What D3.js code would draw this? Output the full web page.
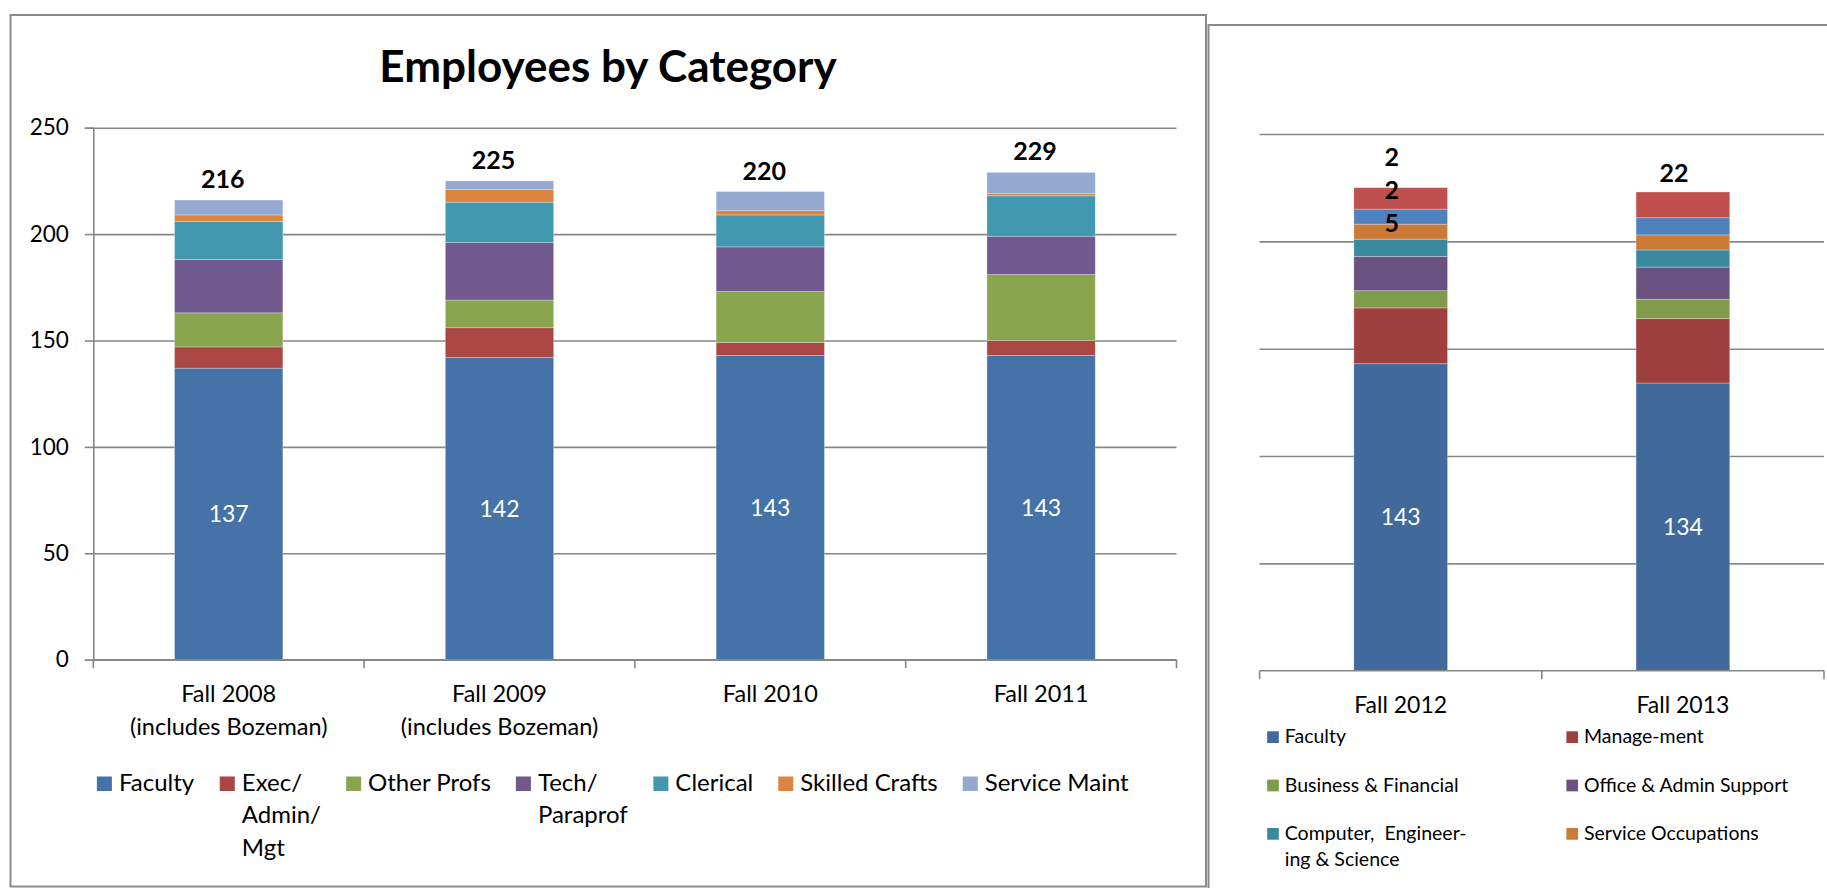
<!DOCTYPE html>
<html>
<head>
<meta charset="utf-8">
<script src="https://cdn.jsdelivr.net/npm/d3@7"></script>
<style>
  body { margin: 0; background: #fff; }
  svg { display: block; font-family: Lato, "Liberation Sans", sans-serif; }
</style>
</head>
<body>
<svg id="chart" width="1827" height="888"></svg>
<script>
// ---- left chart: Fall 2008 - Fall 2011 ----
var leftCategories = ["Fall 2008\n(includes Bozeman)", "Fall 2009\n(includes Bozeman)", "Fall 2010", "Fall 2011"];
var leftSeries = ["Faculty", "Exec/\nAdmin/\nMgt", "Other Profs", "Tech/\nParaprof", "Clerical", "Skilled Crafts", "Service Maint"];
var leftColors = ["#4572A7", "#AA4643", "#89A54E", "#71588F", "#4198AF", "#DB843D", "#93A9CF"];
var faculty      = [137, 142, 143, 143];
var execAdminMgt = [10, 14, 6, 7];
var otherProfs   = [16, 13, 24, 31];
var techParaprof = [25, 27, 21, 18];
var clerical     = [18, 19, 15, 19];
var skilledCraft = [3, 6, 2, 1];
var serviceMaint = [7, 4, 9, 10];
var yTicks = [0, 50, 100, 150, 200, 250];

// ---- right chart: Fall 2012 - Fall 2013 ----
var rightCategories = ["Fall 2012", "Fall 2013"];
var rightSeries = ["Faculty", "Manage-ment", "Business & Financial", "Office & Admin Support",
                   "Computer,\u00a0 Engineer-\ning & Science", "Service Occupations", "Series 7", "Series 8"];
var rightColors = ["#41699B", "#9E413E", "#7F9A48", "#69527F", "#3A8A9F", "#CC7A37", "#4F81BD", "#C0504D"];
var faculty2    = [143, 134];
var management  = [26, 30];
var business    = [8, 9];
var officeAdmin = [16, 15];
var computerEng = [8, 8];
var serviceOcc  = [7, 7];
var series7     = [7, 8];
var series8     = [10, 12];
var rightTotalLabels = ["2\n2\n5", "22"];
var rightLegendCount = 6;

var svg = d3.select("#chart");
var gridColor = "#878787";

function toRows(categories, seriesNames, columns) {
  return categories.map(function(c, i) {
    var row = {cat: c};
    seriesNames.forEach(function(s, j) { row[s] = columns[j][i]; });
    return row;
  });
}

function multiline(sel, text, lineHeight) {
  text.split("\n").forEach(function(line, i) {
    sel.append("tspan").attr("x", sel.attr("x")).attr("dy", i === 0 ? 0 : lineHeight).text(line);
  });
}

// ===== left chart =====
svg.append("rect")
  .attr("x", 10.5).attr("y", 15).attr("width", 1195.5).attr("height", 871.5)
  .attr("fill", "none").attr("stroke", "#8a8a8a").attr("stroke-width", 2);

svg.append("text")
  .attr("x", 608).attr("y", 82)
  .attr("text-anchor", "middle")
  .attr("font-size", 44).attr("font-weight", "bold")
  .text("Employees by Category");

var leftRows = toRows(leftCategories, leftSeries,
  [faculty, execAdminMgt, otherProfs, techParaprof, clerical, skilledCraft, serviceMaint]);

var x1 = d3.scaleBand().domain(leftCategories).range([93.3, 1176.5])
  .paddingInner(0.6).paddingOuter(0.3);
var y1 = d3.scaleLinear().domain([0, 250]).range([659.7, 127.7]);

// gridlines
svg.append("g")
  .attr("transform", "translate(93.3,0)")
  .call(d3.axisLeft(y1).tickValues(yTicks).tickSize(-(1176.5 - 93.3)).tickFormat(""))
  .call(function(g) {
    g.select(".domain").remove();
    g.selectAll("line").attr("stroke", gridColor).attr("stroke-width", 1.6);
  });

var stack1 = d3.stack().keys(leftSeries)(leftRows);
svg.append("g").selectAll("g")
  .data(stack1)
  .enter().append("g")
  .attr("fill", function(d, i) { return leftColors[i]; })
  .selectAll("rect")
  .data(function(d) { return d; })
  .enter().append("rect")
  .attr("x", function(d) { return x1(d.data.cat); })
  .attr("width", x1.bandwidth())
  .attr("y", function(d) { return y1(d[1]); })
  .attr("height", function(d) { return y1(d[0]) - y1(d[1]); })
  .attr("stroke", "rgba(255,255,255,0.35)").attr("stroke-width", 0.8);

// y axis
svg.append("g")
  .attr("transform", "translate(93.3,0)")
  .call(d3.axisLeft(y1).tickValues(yTicks).tickSize(8.5).tickPadding(16))
  .call(function(g) {
    g.select(".domain").attr("stroke", gridColor).attr("stroke-width", 1.6);
    g.selectAll("line").attr("stroke", gridColor).attr("stroke-width", 1.6);
    g.selectAll("text").attr("font-size", 22.5).attr("font-family", "Lato").attr("fill", "#000");
  });

// x axis with ticks between categories
var xAxis1 = svg.append("g").attr("transform", "translate(0," + y1(0) + ")");
xAxis1.append("line").attr("x1", 93.3).attr("x2", 1176.5)
  .attr("stroke", gridColor).attr("stroke-width", 1.6);
d3.range(leftCategories.length + 1).forEach(function(i) {
  var xp = x1.range()[0] + i * x1.step();
  xAxis1.append("line").attr("x1", xp).attr("x2", xp).attr("y1", 0).attr("y2", 8.5)
    .attr("stroke", gridColor).attr("stroke-width", 1.6);
});
leftCategories.forEach(function(c) {
  var t = xAxis1.append("text")
    .attr("x", x1(c) + x1.bandwidth() / 2).attr("y", 42)
    .attr("text-anchor", "middle").attr("font-size", 23.5);
  multiline(t, c, 33);
});

// faculty value labels
svg.append("g").selectAll("text")
  .data(stack1[0])
  .enter().append("text")
  .attr("x", function(d) { return x1(d.data.cat) + x1.bandwidth() / 2; })
  .attr("y", function(d) { return y1((d[0] + d[1]) / 2); })
  .attr("dy", "0.36em")
  .attr("text-anchor", "middle").attr("font-size", 23).attr("fill", "#fff")
  .text(function(d) { return d[1] - d[0]; });

// totals
svg.append("g").selectAll("text")
  .data(leftRows)
  .enter().append("text")
  .attr("x", function(d) { return x1(d.cat) + x1.bandwidth() / 2 - 6; })
  .attr("y", function(d) { return y1(d3.sum(leftSeries, function(s) { return d[s]; })) - 12; })
  .attr("text-anchor", "middle").attr("font-size", 25).attr("font-weight", "bold")
  .text(function(d) { return d3.sum(leftSeries, function(s) { return d[s]; }); });

// legend
var leg1 = svg.append("g");
var lx = 0;
leftSeries.forEach(function(s, i) {
  var item = leg1.append("g").attr("transform", "translate(" + lx + ",0)");
  item.append("rect").attr("x", 0).attr("y", 776.5).attr("width", 15).attr("height", 14.5)
    .attr("fill", leftColors[i]);
  var t = item.append("text").attr("x", 22).attr("y", 790.7).attr("font-size", 24);
  multiline(t, s, 32.5);
  lx += 22 + t.node().getBBox().width + 25;
});
var legW = lx - 25;
leg1.attr("transform", "translate(" + (613 - legW / 2) + ",0)");

// ===== right chart =====
svg.append("rect")
  .attr("x", 1208.5).attr("y", 25).attr("width", 700).attr("height", 900)
  .attr("fill", "none").attr("stroke", "#8a8a8a").attr("stroke-width", 2);

var rightRows = toRows(rightCategories, rightSeries,
  [faculty2, management, business, officeAdmin, computerEng, serviceOcc, series7, series8]);

var x2 = d3.scaleBand().domain(rightCategories).range([1259.6, 1824])
  .paddingInner(0.668).paddingOuter(0.334);
var y2 = d3.scaleLinear().domain([0, 250]).range([670.7, 134]);

svg.append("g")
  .attr("transform", "translate(1259.6,0)")
  .call(d3.axisLeft(y2).tickValues(yTicks.slice(1)).tickSize(-(1824 - 1259.6)).tickFormat(""))
  .call(function(g) {
    g.select(".domain").remove();
    g.selectAll("line").attr("stroke", gridColor).attr("stroke-width", 1.6);
  });

var stack2 = d3.stack().keys(rightSeries)(rightRows);
svg.append("g").selectAll("g")
  .data(stack2)
  .enter().append("g")
  .attr("fill", function(d, i) { return rightColors[i]; })
  .selectAll("rect")
  .data(function(d) { return d; })
  .enter().append("rect")
  .attr("x", function(d) { return x2(d.data.cat); })
  .attr("width", x2.bandwidth())
  .attr("y", function(d) { return y2(d[1]); })
  .attr("height", function(d) { return y2(d[0]) - y2(d[1]); })
  .attr("stroke", "rgba(255,255,255,0.35)").attr("stroke-width", 0.8);

var xAxis2 = svg.append("g").attr("transform", "translate(0," + y2(0) + ")");
xAxis2.append("line").attr("x1", 1259.6).attr("x2", 1824)
  .attr("stroke", gridColor).attr("stroke-width", 1.6);
d3.range(rightCategories.length + 1).forEach(function(i) {
  var xp = x2.range()[0] + i * x2.step();
  xAxis2.append("line").attr("x1", xp).attr("x2", xp).attr("y1", 0).attr("y2", 8.5)
    .attr("stroke", gridColor).attr("stroke-width", 1.6);
});
rightCategories.forEach(function(c) {
  xAxis2.append("text")
    .attr("x", x2(c) + x2.bandwidth() / 2).attr("y", 42.6)
    .attr("text-anchor", "middle").attr("font-size", 23)
    .text(c);
});

svg.append("g").selectAll("text")
  .data(stack2[0])
  .enter().append("text")
  .attr("x", function(d) { return x2(d.data.cat) + x2.bandwidth() / 2; })
  .attr("y", function(d) { return y2((d[0] + d[1]) / 2); })
  .attr("dy", "0.36em")
  .attr("text-anchor", "middle").attr("font-size", 23).attr("fill", "#fff")
  .text(function(d) { return d[1] - d[0]; });

// totals (the text box in the original wraps / clips)
rightRows.forEach(function(d, i) {
  var lines = rightTotalLabels[i].split("\n");
  var top = y2(d3.sum(rightSeries, function(s) { return d[s]; }));
  var t = svg.append("text")
    .attr("x", x2(d.cat) + x2.bandwidth() / 2 - 9)
    .attr("y", lines.length > 1 ? top - 22 : top - 10)
    .attr("text-anchor", "middle").attr("font-size", 25).attr("font-weight", "bold");
  multiline(t, rightTotalLabels[i], 33);
});

// legend, two columns
var leg2 = svg.append("g").selectAll("g")
  .data(rightSeries.slice(0, rightLegendCount))
  .enter().append("g")
  .attr("transform", function(d, i) {
    return "translate(" + (i % 2 === 0 ? 1267.2 : 1566.4) + "," + (743.3 + Math.floor(i / 2) * 48.35) + ")";
  });
leg2.append("rect").attr("x", 0).attr("y", -12).attr("width", 11.6).attr("height", 11.7)
  .attr("fill", function(d, i) { return rightColors[i]; });
leg2.append("text").attr("x", 17.6).attr("y", 0).attr("font-size", 19.5)
  .each(function(d) { multiline(d3.select(this), d, 26); });
</script>
</body>
</html>
